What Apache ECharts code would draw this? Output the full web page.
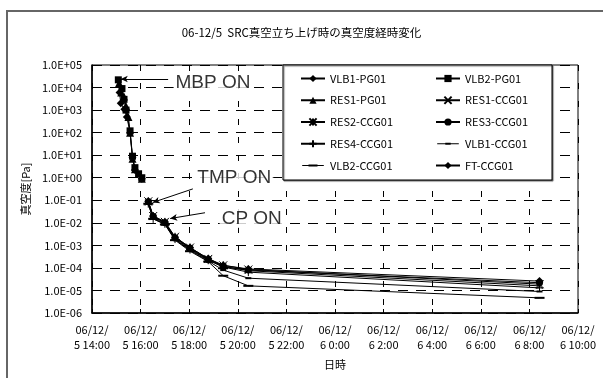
<!DOCTYPE html>
<html>
<head>
<meta charset="utf-8">
<script src="https://cdn.jsdelivr.net/npm/echarts@6/dist/echarts.min.js"></script>
<style>
html, body { margin: 0; padding: 0; background: #fff; }
#chart { width: 603px; height: 378px; }
</style>
</head>
<body>
<div id="chart"></div>
<script>
// times are 'day hh:mm' in Dec 2006
var pgVLB1Times = ['5 15:08', '5 15:11', '5 15:20', '5 15:26', '5 15:34', '5 15:40', '5 15:46', '5 16:03'];
var pgVLB1Vals = [6e3, 2e3, 1.1e3, 5e2, 1e2, 8, 2.2, 0.9];
var pgVLB2Times = ['5 15:05', '5 15:14', '5 15:19', '5 15:24', '5 15:34', '5 15:40', '5 15:46', '5 15:55', '5 16:03'];
var pgVLB2Vals = [2.2e4, 9e3, 3e3, 1e3, 1.2e2, 9, 2.8, 1.5, 1.0];
var pgRES1Times = ['5 15:07', '5 15:12', '5 15:19', '5 15:24', '5 15:30', '5 15:34', '5 15:40', '5 15:46', '5 16:03'];
var pgRES1Vals = [1.6e4, 6e3, 4e3, 1.5e3, 5e2, 1e2, 7, 2.4, 0.9];

var ccgTimes = ['5 16:19', '5 16:31', '5 17:00', '5 17:25', '5 18:02', '5 18:47', '5 19:24', '5 20:26', '6 8:25'];
var ccgRES1 = [8e-2, 1.8e-2, 1e-2, 2.2e-3, 7.5e-4, 2.4e-4, 1.2e-4, 7.5e-5, 1.6e-5];
var ccgRES2 = [9e-2, 2e-2, 1.1e-2, 2.4e-3, 8e-4, 2.5e-4, 1.3e-4, 8.5e-5, 1.9e-5];
var ccgRES3 = [8.5e-2, 1.9e-2, 1e-2, 2.1e-3, 7e-4, 2.3e-4, 1.1e-4, 8e-5, 2.2e-5];
var ccgRES4 = [7e-2, 1.5e-2, 9e-3, 1.9e-3, 6.5e-4, 2.2e-4, 1.1e-4, 6.5e-5, 1.3e-5];
var ccgVLB1 = [7.5e-2, 1.6e-2, 9e-3, 1.8e-3, 6e-4, 2e-4, 8e-5, 3.5e-5, 9e-6];
var ccgVLB2 = [7e-2, 1.5e-2, 8.5e-3, 1.7e-3, 5.5e-4, 1.9e-4, 4.5e-5, 1.6e-5, 4.7e-6];
var ccgFT = [9e-2, 2e-2, 1.1e-2, 2.3e-3, 8e-4, 2.6e-4, 1.3e-4, 9e-5, 2.6e-5];

var legendCol1 = ['VLB1-PG01', 'RES1-PG01', 'RES2-CCG01', 'RES4-CCG01', 'VLB2-CCG01'];
var legendCol2 = ['VLB2-PG01', 'RES1-CCG01', 'RES3-CCG01', 'VLB1-CCG01', 'FT-CCG01'];

// annotation: label position, arrow start, arrow end
var noteText = ['MBP ON', 'TMP ON', 'CP ON'];
var noteLabelAt = [['5 17:20', 1.6e4], ['5 18:14', 1.0], ['5 19:14', 1.55e-2]];
var noteFrom = [['5 17:08', 2.4e4], ['5 18:09', 0.32], ['5 18:39', 2.8e-2]];
var noteTo = [['5 15:11', 2.4e4], ['5 16:30', 0.08], ['5 17:13', 1.55e-2]];

function toH(s) {
	var p = s.split(' ');
	var hm = p[1].split(':');
	return (parseInt(p[0]) - 5) * 24 + parseInt(hm[0]) + parseInt(hm[1]) / 60 - 14;
}
function pairs(times, vals) {
	var out = [];
	for (var i = 0; i < times.length; i++) out.push([toH(times[i]), vals[i]]);
	return out;
}
function expLabel(v) {
	var e = Math.round(Math.log10(v));
	var s = e < 0 ? '-' : '+';
	var a = Math.abs(e);
	return '1.0E' + s + (a < 10 ? '0' : '') + a;
}

var myChart = echarts.init(document.getElementById('chart'));

function mk(name, data, symbol, size, stroke) {
	return {
		name : name,
		type : 'line',
		data : data,
		symbol : symbol,
		symbolSize : size,
		color : '#000',
		lineStyle : { color : '#000', width : 1 },
		itemStyle : stroke ? { color : '#000', borderColor : '#000', borderWidth : 1 } : { color : '#000' },
		animation : false
	};
}

var crossP = 'path://M0,0L10,10M10,0L0,10';
var starP = 'path://M0,0L10,10M10,0L0,10M5,0L5,10';
var plusP = 'path://M5,0L5,10M0,5L10,5';
// legend icons for the dash markers: line + short bar, corner specks keep the box 24x10
var dashIcon1 = 'path://M0,0L0.01,0L0,0.01Z M24,10L23.99,10L24,9.99Z M0,4.5L24,4.5L24,5.5L0,5.5Z M9,4L15,4L15,6L9,6Z';
var dashIcon2 = 'path://M0,0L0.01,0L0,0.01Z M24,10L23.99,10L24,9.99Z M0,4.5L24,4.5L24,5.5L0,5.5Z M7,3.8L17,3.8L17,6.2L7,6.2Z';

function legendItems(names) {
	return names.map(function(n) {
		if (n === 'VLB1-CCG01') return { name : n, icon : dashIcon1 };
		if (n === 'VLB2-CCG01') return { name : n, icon : dashIcon2 };
		return { name : n };
	});
}

var noteData = [];
var noteLines = [];
for (var i = 0; i < noteText.length; i++) {
	noteData.push({ name : noteText[i], value : [toH(noteLabelAt[i][0]), noteLabelAt[i][1]] });
	noteLines.push([
		{ coord : [toH(noteFrom[i][0]), noteFrom[i][1]] },
		{ coord : [toH(noteTo[i][0]), noteTo[i][1]] }
	]);
}

var series = [
	mk('VLB1-PG01', pairs(pgVLB1Times, pgVLB1Vals), 'diamond', 8),
	mk('VLB2-PG01', pairs(pgVLB2Times, pgVLB2Vals), 'rect', 7),
	mk('RES1-PG01', pairs(pgRES1Times, pgRES1Vals), 'triangle', 8),
	mk('RES1-CCG01', pairs(ccgTimes, ccgRES1), crossP, 6, true),
	mk('RES2-CCG01', pairs(ccgTimes, ccgRES2), starP, 8, true),
	mk('RES3-CCG01', pairs(ccgTimes, ccgRES3), 'circle', 7),
	mk('RES4-CCG01', pairs(ccgTimes, ccgRES4), plusP, 8, true),
	mk('VLB1-CCG01', pairs(ccgTimes, ccgVLB1), 'rect', [6, 2]),
	mk('VLB2-CCG01', pairs(ccgTimes, ccgVLB2), 'rect', [10, 2]),
	mk('FT-CCG01', pairs(ccgTimes, ccgFT), 'diamond', 8),
	{
		name : 'note',
		type : 'scatter',
		data : noteData,
		symbolSize : 1,
		itemStyle : { color : 'rgba(0,0,0,0)' },
		label : {
			show : true,
			position : 'right',
			distance : 0,
			formatter : '{b}',
			color : '#000',
			fontSize : 19,
			fontFamily : 'Liberation Sans',
			backgroundColor : '#fff',
			padding : [ 0, 2 ]
		},
		markLine : {
			silent : true,
			symbol : [ 'none', 'arrow' ],
			symbolSize : [ 5, 7 ],
			label : { show : false },
			lineStyle : { color : '#000', width : 1, type : 'solid' },
			data : noteLines,
			animation : false
		},
		animation : false,
		z : 5
	}
];

var legendBase = {
	orient : 'vertical',
	top : 73,
	padding : 0,
	itemWidth : 24,
	itemHeight : 9,
	itemGap : 10.75,
	textStyle : { color : '#000', fontSize : 11, fontFamily : 'Noto Sans CJK JP' },
	z : 10
};

var option = {
	backgroundColor : '#fff',
	textStyle : { fontFamily : 'Noto Sans CJK JP' },
	title : {
		text : '06-12/5  SRC真空立ち上げ時の真空度経時変化',
		left : 'center',
		top : 22,
		textStyle : { color : '#000', fontSize : 11.5, fontWeight : 'normal', fontFamily : 'Noto Sans CJK JP' }
	},
	legend : [
		echarts.util.merge({ data : legendItems(legendCol1), left : 300 }, legendBase),
		echarts.util.merge({ data : legendItems(legendCol2), left : 435 }, legendBase)
	],
	grid : {
		left : 92,
		right : 25,
		top : 65,
		bottom : 65,
		show : true,
		borderColor : '#000',
		borderWidth : 1
	},
	xAxis : {
		type : 'value',
		min : 0,
		max : 20,
		interval : 2,
		name : '日時',
		nameLocation : 'middle',
		nameGap : 46,
		nameTextStyle : { color : '#000', fontSize : 11 },
		axisLine : { lineStyle : { color : '#000', width : 1.5 } },
		axisTick : { inside : true, length : 4, lineStyle : { color : '#000' } },
		axisLabel : {
			color : '#000',
			fontSize : 11,
			lineHeight : 15,
			margin : 9,
			formatter : function(h) {
				var d = 5 + Math.floor((14 + h) / 24);
				var hr = (14 + h) % 24;
				return '06/12/\n' + d + ' ' + hr + ':00';
			}
		},
		splitLine : { show : true, lineStyle : { color : '#000', type : [ 6, 12 ], width : 1 } }
	},
	yAxis : {
		type : 'log',
		logBase : 10,
		min : 1e-6,
		max : 1e5,
		interval : 1,
		name : '真空度[Pa]',
		nameLocation : 'middle',
		nameRotate : 90,
		nameGap : 57,
		nameTextStyle : { color : '#000', fontSize : 11 },
		axisLine : { show : true, lineStyle : { color : '#000', width : 1.5 } },
		axisTick : { show : true, inside : true, length : 5, lineStyle : { color : '#000' } },
		axisLabel : {
			color : '#000',
			fontSize : 11,
			margin : 10,
			showMinLabel : true,
			showMaxLabel : true,
			formatter : expLabel
		},
		splitLine : { show : true, lineStyle : { color : '#000', type : [ 10, 8 ], width : 1 } }
	},
	graphic : [
		{
			type : 'rect',
			shape : { x : 7, y : 11, width : 620, height : 400 },
			style : { fill : 'none', stroke : '#666', lineWidth : 2 },
			silent : true,
			z : 0
		},
		{
			type : 'rect',
			shape : { x : 283, y : 65, width : 269, height : 115 },
			style : { fill : '#fff', stroke : '#000', lineWidth : 1, shadowColor : 'rgba(0,0,0,0.5)', shadowOffsetX : 1, shadowOffsetY : 1, shadowBlur : 1 },
			silent : true,
			z : 9
		}
	],
	series : series
};
myChart.setOption(option);
</script>
</body>
</html>
